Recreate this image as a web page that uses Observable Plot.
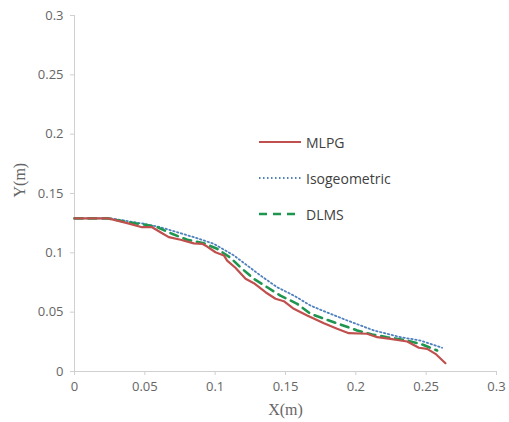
<!DOCTYPE html>
<html>
<head>
<meta charset="utf-8">
<script src="https://cdn.jsdelivr.net/npm/d3@7"></script>
<script src="https://cdn.jsdelivr.net/npm/@observablehq/plot@0.6"></script>
<style>
html,body{margin:0;padding:0;background:#fff;}
#wrap{position:relative;width:509px;height:422px;}
#legend{position:absolute;left:258px;top:132px;font-family:"Open Sans",sans-serif;font-size:14px;color:#404040;}
#legend div{display:flex;align-items:center;height:20px;margin-bottom:16px;}
#legend svg{margin-right:4px;}
</style>
</head>
<body>
<div id="wrap"><div id="chart"></div>
<div id="legend">
<div><svg width="44" height="10"><line x1="1" y1="5" x2="43" y2="5" stroke="#c0504d" stroke-width="2.2"/></svg>MLPG</div>
<div><svg width="44" height="10"><line x1="1" y1="5" x2="43" y2="5" stroke="#4f81bd" stroke-width="1.8" stroke-dasharray="1.5,2.5"/></svg>Isogeometric</div>
<div><svg width="44" height="10"><line x1="1" y1="5" x2="43" y2="5" stroke="#1e9650" stroke-width="2.6" stroke-dasharray="8,6"/></svg>DLMS</div>
</div>
</div>
<script>
const mlpgX = [0, 0.024, 0.0375, 0.048, 0.0552, 0.0611, 0.067, 0.0754, 0.0848, 0.0908, 0.0943, 0.1002, 0.1062, 0.1085, 0.1144, 0.1216, 0.1275, 0.1358, 0.1429, 0.1488, 0.1559, 0.1654, 0.1773, 0.1867, 0.195, 0.208, 0.2152, 0.2246, 0.2365, 0.2448, 0.2507, 0.2566, 0.2637];
const mlpgY = [0.129, 0.129, 0.125, 0.1216, 0.1216, 0.1174, 0.1132, 0.111, 0.108, 0.1076, 0.1053, 0.1005, 0.0978, 0.0935, 0.0874, 0.0781, 0.0744, 0.0668, 0.0613, 0.0592, 0.0528, 0.0472, 0.0407, 0.036, 0.0323, 0.0318, 0.0289, 0.0275, 0.0253, 0.02, 0.0191, 0.0149, 0.007];
const isoX = [0, 0.026, 0.0493, 0.0611, 0.0848, 0.099, 0.1133, 0.1228, 0.1322, 0.1441, 0.1559, 0.1678, 0.1749, 0.1939, 0.2128, 0.2318, 0.246, 0.2614];
const isoY = [0.129, 0.129, 0.1245, 0.1216, 0.1132, 0.1076, 0.0978, 0.0893, 0.0809, 0.071, 0.064, 0.0556, 0.052, 0.043, 0.0346, 0.0289, 0.0261, 0.02];
const dlmsX = [0, 0.024, 0.0375, 0.0493, 0.0588, 0.0706, 0.0801, 0.0919, 0.1014, 0.1109, 0.1192, 0.1275, 0.137, 0.1464, 0.1583, 0.1678, 0.1796, 0.1891, 0.201, 0.2116, 0.2223, 0.2341, 0.246, 0.2578];
const dlmsY = [0.129, 0.129, 0.1258, 0.1239, 0.1216, 0.1154, 0.111, 0.1081, 0.1034, 0.0958, 0.0865, 0.0781, 0.071, 0.064, 0.057, 0.0486, 0.0435, 0.0396, 0.0346, 0.0312, 0.0289, 0.0267, 0.0233, 0.0177];
const xTicks = [0, 0.05, 0.1, 0.15, 0.2, 0.25, 0.3];
const yTicks = [0, 0.05, 0.1, 0.15, 0.2, 0.25, 0.3];

const toRows = (xs, ys) => xs.map((x, i) => ({x, y: ys[i]}));
const fmt = d => d === 0 ? "0" : String(d);
const gray = "#666666";

const chart = Plot.plot({
  width: 509,
  height: 422,
  marginLeft: 74,
  marginRight: 13,
  marginTop: 15,
  marginBottom: 51,
  style: {fontFamily: "'Open Sans', sans-serif", background: "#fff"},
  x: {domain: [0, 0.3]},
  y: {domain: [0, 0.3]},
  marks: [
    Plot.ruleY([0], {stroke: "#d0d0d0", strokeWidth: 1}),
    Plot.ruleX([0], {stroke: "#d0d0d0", strokeWidth: 1}),
    Plot.axisX({ticks: xTicks, tickFormat: fmt, tickSize: 4, tickPadding: 6, fontSize: 13, color: gray, stroke: "#d0d0d0", label: null}),
    Plot.axisY({ticks: yTicks, tickFormat: fmt, tickSize: 4, tickPadding: 7, fontSize: 13, color: gray, stroke: "#d0d0d0", label: null}),
    Plot.line(toRows(isoX, isoY), {x: "x", y: "y", stroke: "#4f81bd", strokeWidth: 1.8, strokeDasharray: "1.5,2.5"}),
    Plot.line(toRows(dlmsX, dlmsY), {x: "x", y: "y", stroke: "#1e9650", strokeWidth: 2.6, strokeDasharray: "8,6"}),
    Plot.line(toRows(mlpgX, mlpgY), {x: "x", y: "y", stroke: "#c0504d", strokeWidth: 2.2}),
    Plot.text(["X(m)"], {frameAnchor: "bottom", dy: 43, fontFamily: "'Liberation Serif', serif", fontSize: 16, fill: gray}),
    Plot.text(["Y(m)"], {frameAnchor: "left", dx: -55, dy: 4, rotate: -90, fontFamily: "'Liberation Serif', serif", fontSize: 16, fill: gray})
  ]
});
document.getElementById("chart").appendChild(chart);
</script>
</body>
</html>
